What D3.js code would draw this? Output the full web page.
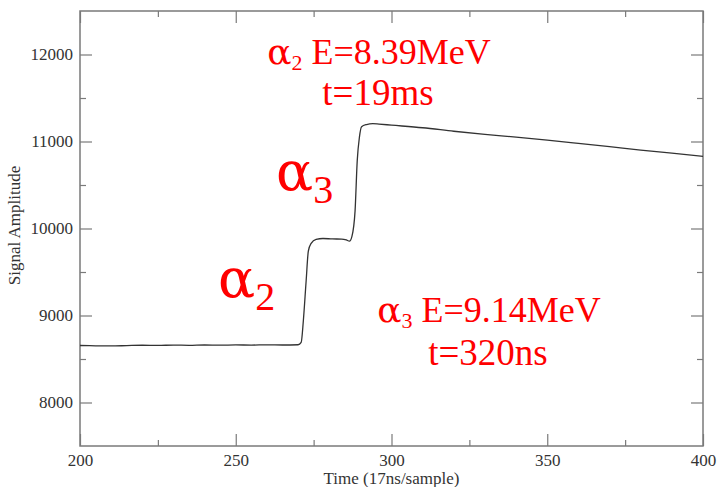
<!DOCTYPE html>
<html>
<head>
<meta charset="utf-8">
<script src="https://cdn.jsdelivr.net/npm/d3@7"></script>
<style>
  body { margin: 0; background: #fff; }
  #chart { width: 720px; height: 487px; }
  text { font-family: "Liberation Serif", "Times New Roman", serif; }
</style>
</head>
<body>
<div id="chart"></div>
<script>
// Signal trace
const sampleTime = [200, 205, 210, 215, 220, 225, 230, 235, 240, 245, 250, 255, 260, 265, 270,
    271, 271.7, 272.6, 273.3, 274.2, 275.8, 278, 281, 284, 285.5, 286.5, 287.3, 288.3, 289, 289.7,
    290.4, 292, 294, 296, 300, 310, 320, 330, 340, 350, 360, 370, 380, 390, 400];
const amplitude = [8655, 8652, 8650, 8654, 8658, 8656, 8660, 8657, 8661, 8659, 8662, 8660, 8663, 8661, 8664,
    8690, 8940, 9400, 9740, 9830, 9875, 9885, 9880, 9878, 9868, 9855, 9910, 10200, 10780, 11050,
    11170, 11195, 11205, 11200, 11188, 11158, 11118, 11082, 11050, 11015, 10978, 10940, 10900, 10866, 10830];

const xTicks = [200, 250, 300, 350, 400];
const xMinor = [225, 275, 325, 375];
const yTicks = [8000, 9000, 10000, 11000, 12000];
const yMinor = [8500, 9500, 10500, 11500];

const W = 720, H = 487;
const margin = { top: 11, right: 17, bottom: 41, left: 80 };
const width = W - margin.left - margin.right;
const height = H - margin.top - margin.bottom;

const svg = d3.select("#chart").append("svg")
    .attr("width", W).attr("height", H);
const g = svg.append("g").attr("transform", `translate(${margin.left},${margin.top})`);

const x = d3.scaleLinear().domain([200, 400]).range([0, width]);
const y = d3.scaleLinear().domain([7500, 12500]).range([height, 0]);

const axisColor = "#7a7a7a";
const majorLen = 12, minorLen = 6;

// ticks on all four sides, pointing inward
function styleAxis(sel) {
    sel.select(".domain").remove();
    sel.selectAll("line").attr("stroke", axisColor).attr("stroke-width", 1.2);
    sel.selectAll("text").attr("fill", "#333").style("font-size", "17px");
}

g.append("g").attr("transform", `translate(0,${height})`)
    .call(d3.axisBottom(x).tickValues(xTicks).tickFormat(d3.format("d")).tickSize(-majorLen).tickPadding(8))
    .call(styleAxis);
g.append("g").attr("transform", `translate(0,${height})`)
    .call(d3.axisBottom(x).tickValues(xMinor).tickFormat("").tickSize(-minorLen))
    .call(styleAxis);
g.append("g")
    .call(d3.axisTop(x).tickValues(xTicks).tickFormat("").tickSize(-majorLen))
    .call(styleAxis);
g.append("g")
    .call(d3.axisTop(x).tickValues(xMinor).tickFormat("").tickSize(-minorLen))
    .call(styleAxis);

g.append("g")
    .call(d3.axisLeft(y).tickValues(yTicks).tickFormat(d3.format("d")).tickSize(-majorLen).tickPadding(7))
    .call(styleAxis);
g.append("g")
    .call(d3.axisLeft(y).tickValues(yMinor).tickFormat("").tickSize(-minorLen))
    .call(styleAxis);
g.append("g").attr("transform", `translate(${width},0)`)
    .call(d3.axisRight(y).tickValues(yTicks).tickFormat("").tickSize(-majorLen))
    .call(styleAxis);
g.append("g").attr("transform", `translate(${width},0)`)
    .call(d3.axisRight(y).tickValues(yMinor).tickFormat("").tickSize(-minorLen))
    .call(styleAxis);

// frame
g.append("rect")
    .attr("x", 0).attr("y", 0)
    .attr("width", width).attr("height", height)
    .attr("fill", "none")
    .attr("stroke", axisColor)
    .attr("stroke-width", 1.5);

// trace
const line = d3.line()
    .x((d, i) => x(sampleTime[i]))
    .y(d => y(d))
    .curve(d3.curveMonotoneX);

g.append("path")
    .datum(amplitude)
    .attr("d", line)
    .attr("fill", "none")
    .attr("stroke", "#333")
    .attr("stroke-width", 1.3);

// axis titles
svg.append("text")
    .attr("x", margin.left + width / 2)
    .attr("y", 484)
    .attr("text-anchor", "middle")
    .attr("fill", "#333")
    .style("font-size", "17px")
    .text("Time (17ns/sample)");

svg.append("text")
    .attr("transform", `translate(20,${margin.top + height / 2 - 3}) rotate(-90)`)
    .attr("text-anchor", "middle")
    .attr("fill", "#333")
    .style("font-size", "17px")
    .text("Signal Amplitude");

// red annotations
const red = "#ff0000";
function alphaLabel(px, py, sub, size, subSize, subDy, anchor) {
    const t = svg.append("text")
        .attr("x", px).attr("y", py)
        .attr("fill", red)
        .attr("text-anchor", anchor || "start")
        .style("font-size", size + "px");
    t.append("tspan").style("font-family", '"DejaVu Serif", serif').text("α");
    t.append("tspan").attr("dy", subDy).style("font-size", subSize + "px").text(sub);
    return t;
}

// top note
const note1 = alphaLabel(379, 64, "2", 36, 22, 6, "middle");
note1.append("tspan").attr("dy", -6).text(" E=8.39MeV");
svg.append("text").attr("x", 378).attr("y", 105)
    .attr("text-anchor", "middle").attr("fill", red)
    .style("font-size", "37px").text("t=19ms");

// bottom note
const note2 = alphaLabel(489, 322, "3", 36, 22, 6, "middle");
note2.append("tspan").attr("dy", -6).text(" E=9.14MeV");
svg.append("text").attr("x", 488).attr("y", 365)
    .attr("text-anchor", "middle").attr("fill", red)
    .style("font-size", "37px").text("t=320ns");

// big step labels
alphaLabel(276, 190, "3", 55, 40, 13);
alphaLabel(218, 297, "2", 55, 40, 13);
</script>
</body>
</html>
